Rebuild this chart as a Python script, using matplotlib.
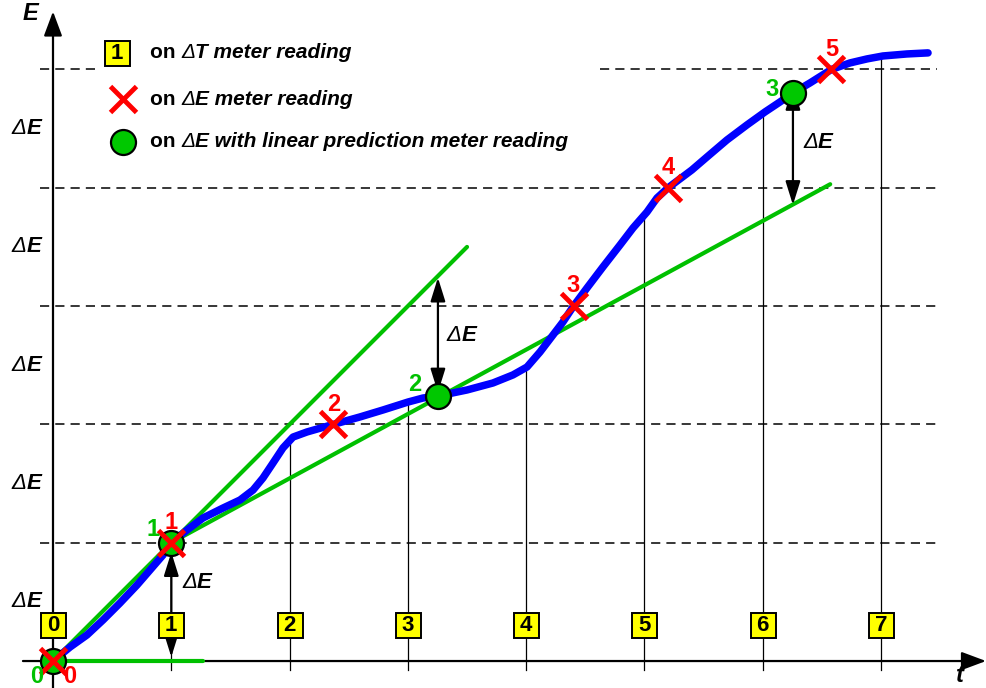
import matplotlib.pyplot as plt

plt.rcParams['font.family'] = ['Liberation Sans', 'DejaVu Sans']

curve_t = [0.0, 0.144, 0.287, 0.423, 0.566, 0.710, 0.820, 0.930, 1.0, 1.133, 1.268,
           1.437, 1.581, 1.691, 1.775, 1.860, 1.944, 2.029, 2.147, 2.37, 2.595,
           2.790, 3.001, 3.128, 3.254, 3.500, 3.719, 3.888, 4.007, 4.117, 4.227,
           4.311, 4.40, 4.514, 4.649, 4.793, 4.903, 5.021, 5.106, 5.20, 5.40,
           5.528, 5.697, 5.866, 6.019, 6.145, 6.255, 6.399, 6.58, 6.737, 6.881,
           7.016, 7.219, 7.397]
curve_E = [0.0, 0.118, 0.220, 0.347, 0.490, 0.642, 0.769, 0.896, 1.0, 1.107, 1.209,
           1.293, 1.361, 1.445, 1.547, 1.674, 1.801, 1.893, 1.936, 2.0, 2.063,
           2.122, 2.189, 2.223, 2.240, 2.291, 2.350, 2.418, 2.485, 2.612, 2.756,
           2.866, 3.0, 3.153, 3.331, 3.516, 3.660, 3.795, 3.914, 4.0, 4.150,
           4.260, 4.404, 4.531, 4.641, 4.725, 4.801, 4.886, 5.0, 5.055, 5.089,
           5.114, 5.131, 5.140]

# dT meter readings (yellow boxes) and curve value at each reading
t_ticks = [0, 1, 2, 3, 4, 5, 6, 7]
E_at_ticks = [0.0, 1.0, 1.85, 2.19, 2.49, 3.75, 4.64, 5.09]

# dE meter readings (red crosses)
cross_t = [0.0, 1.0, 2.37, 4.40, 5.20, 6.58]
cross_E = [0, 1, 2, 3, 4, 5]

# dE with linear prediction readings (green circles)
pred_t = [0.0, 1.0, 3.254, 6.255]
pred_E = [0.0, 1.0, 2.24, 4.80]

# prediction lines
upper_line = ([0.0, 3.5], [0.0, 3.5])
lower_line = ([1.0, 6.57], [1.0, 4.03])
base_line = ([0.0, 1.27], [0.0, 0.0])

levels = [1, 2, 3, 4, 5]

BLUE = '#0000ff'
GREEN = '#00c000'
RED = '#ff0000'
YELLOW = '#ffff00'

fig = plt.figure(figsize=(9.86, 6.88), dpi=100)
ax = fig.add_axes([0, 0, 1, 1])
ax.set_xlim(-0.448, 7.887)
ax.set_ylim(-0.228, 5.587)
ax.axis('off')

# dashed energy levels
for e in levels:
    if e == 5:
        ax.plot([-0.11, 0.40], [e, e], color='black', lw=1.1, dashes=(6, 4), zorder=1)
        ax.plot([4.62, 7.47], [e, e], color='black', lw=1.1, dashes=(6, 4), zorder=1)
    else:
        ax.plot([-0.11, 7.47], [e, e], color='black', lw=1.1, dashes=(6, 4), zorder=1)

# thin vertical lines at each dT reading
for t, e in zip(t_ticks[1:], E_at_ticks[1:]):
    ax.plot([t, t], [-0.08, e], color='black', lw=0.9, zorder=1)

# axes with arrows
ax.annotate('', xy=(7.887, 0), xytext=(-0.254, 0),
            arrowprops=dict(arrowstyle='-|>,head_length=0.75,head_width=0.28',
                            mutation_scale=20, lw=1.6, color='black',
                            shrinkA=0, shrinkB=0), zorder=2)
ax.annotate('', xy=(0, 5.49), xytext=(0, -0.23),
            arrowprops=dict(arrowstyle='-|>,head_length=0.75,head_width=0.28',
                            mutation_scale=20, lw=1.6, color='black',
                            shrinkA=0, shrinkB=0), zorder=2)

# green prediction lines
for xs, ys in (upper_line, lower_line, base_line):
    ax.plot(xs, ys, color=GREEN, lw=3, solid_capstyle='round', zorder=3)

# blue curve
ax.plot(curve_t, curve_E, color=BLUE, lw=5.4, solid_capstyle='round',
        solid_joinstyle='round', zorder=4)


def double_arrow(x, y0, y1):
    ax.annotate('', xy=(x, y1), xytext=(x, y0),
                arrowprops=dict(arrowstyle='<|-|>,head_length=0.8,head_width=0.25',
                                mutation_scale=18, lw=1.6, color='black',
                                shrinkA=0, shrinkB=0), zorder=6)


def delta_text(x, y, sym, size=16, va='center'):
    t1 = ax.text(x, y, '\u0394', fontsize=size, style='italic', va=va, ha='left', zorder=8)
    ax.annotate(sym, xy=(1, 0), xycoords=t1, xytext=(0, 0), textcoords='offset points',
                fontsize=size, style='italic', weight='bold', va='bottom', ha='left',
                zorder=8)
    return t1


double_arrow(1.0, 0.034, 0.92)
double_arrow(pred_t[2], 2.27, 3.24)
double_arrow(pred_t[3], 4.86, 3.855)

delta_text(1.09, 0.66, 'E')
delta_text(3.33, 2.75, 'E')
delta_text(6.34, 4.38, 'E')

# markers
ax.plot(pred_t, pred_E, 'o', ms=18, mfc='#00c800', mec='black', mew=1.6, zorder=6,
        linestyle='none')
ax.plot(cross_t, cross_E, 'x', ms=19, mec=RED, mew=3.5, zorder=7, linestyle='none')

# red labels
red_pos = [(0.144, -0.127)] + [(t, e + 0.17) for t, e in zip(cross_t[1:], cross_E[1:])]
for i, (x, y) in enumerate(red_pos):
    ax.text(x, y, str(i), color=RED, fontsize=17, weight='bold', ha='center', va='center',
            zorder=8)

# green labels
green_pos = [(-0.135, -0.127), (0.845, 1.11), (3.06, 2.34), (6.08, 4.83)]
for i, (x, y) in enumerate(green_pos):
    ax.text(x, y, str(i), color=GREEN, fontsize=17, weight='bold', ha='center', va='center',
            zorder=8)

# yellow dT boxes
box_y = 0.304
ax.plot(t_ticks, [box_y] * len(t_ticks), 's', ms=18, mfc=YELLOW, mec='black', mew=1.4,
        linestyle='none', zorder=7)
for t in t_ticks:
    ax.text(t, box_y - 0.005, str(t), fontsize=16, weight='bold', ha='center', va='center',
            zorder=8)

# axis labels
for e in levels:
    delta_text(-0.35, e - 0.5, 'E')
ax.text(-0.194, 5.477, 'E', fontsize=17, style='italic', weight='bold', ha='center',
        va='center')
ax.text(7.667, -0.125, 't', fontsize=17, style='italic', weight='bold', ha='center',
        va='center')

# legend
leg_x = 0.59
ax.plot([0.541], [5.14], 's', ms=18, mfc=YELLOW, mec='black', mew=1.4, zorder=7)
ax.text(0.541, 5.135, '1', fontsize=16, weight='bold', ha='center', va='center', zorder=8)
ax.plot([leg_x], [4.75], 'x', ms=19, mec=RED, mew=3.5, zorder=7)
ax.plot([leg_x], [4.39], 'o', ms=18, mfc='#00c800', mec='black', mew=1.6, zorder=7)

legend_rows = [(5.14, 'T', ' meter reading'),
               (4.75, 'E', ' meter reading'),
               (4.39, 'E', ' with linear prediction meter reading')]
for y, sym, rest in legend_rows:
    t0 = ax.text(0.82, y, 'on ', fontsize=15, weight='bold', ha='left', va='center')
    t1 = ax.annotate('\u0394', xy=(1, 0), xycoords=t0, xytext=(0, 0),
                     textcoords='offset points', fontsize=15, style='italic',
                     va='bottom', ha='left')
    ax.annotate(sym + rest, xy=(1, 0), xycoords=t1, xytext=(0, 0),
                textcoords='offset points', fontsize=15, style='italic', weight='bold',
                va='bottom', ha='left')

fig.savefig('out.png', dpi=100)
